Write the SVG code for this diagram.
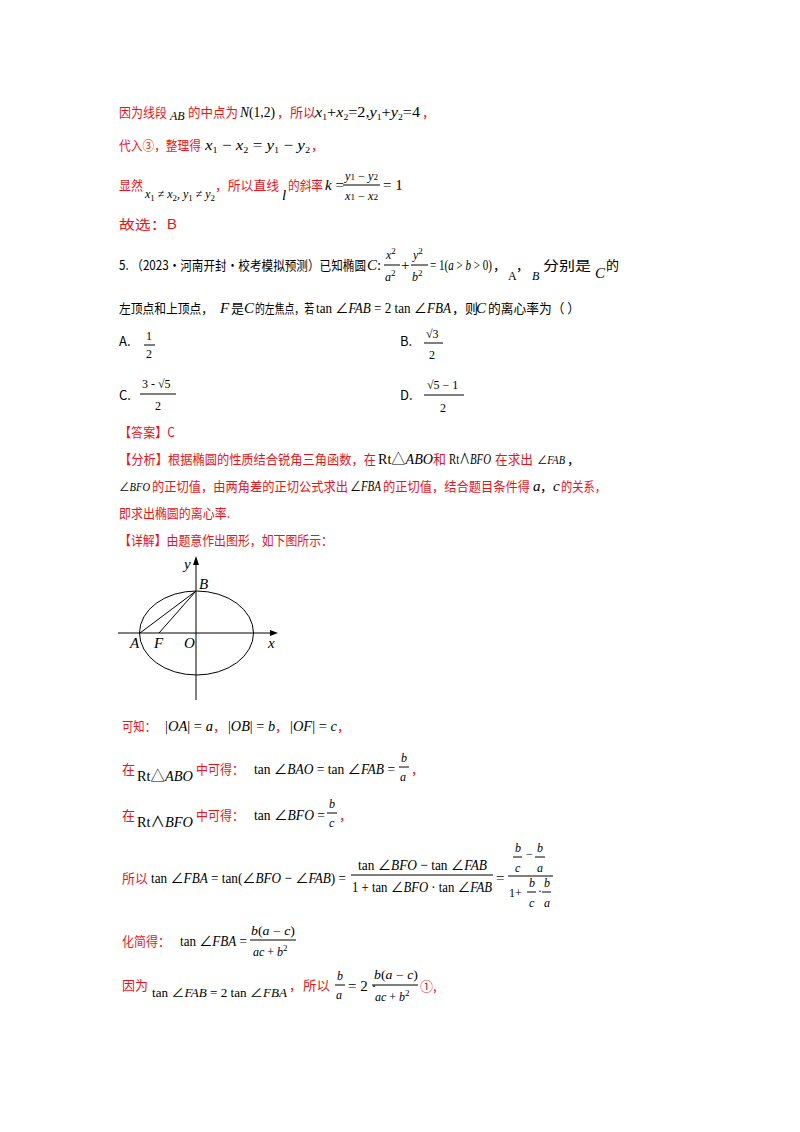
<svg xmlns="http://www.w3.org/2000/svg" width="800" height="1132" viewBox="0 0 800 1132">
<style>
text{font-family:"Liberation Serif","Noto Sans CJK SC",serif;font-size:15px;fill:#000}
.c{font-family:"Noto Sans CJK SC",sans-serif;font-size:13px}
.r{fill:#e8141b}
.i{font-style:italic}
.s{font-size:9px}
.m{font-size:12px}
line,ellipse{stroke:#000;stroke-width:1;fill:none}
</style>
<rect width="800" height="1132" fill="#fff"/>
<g id="text">
<text x="119" y="117" class="c r" textLength="48" lengthAdjust="spacingAndGlyphs">因为线段</text>
<text x="170" y="120" class="i m">AB</text>
<text x="188" y="117" class="c r" textLength="50" lengthAdjust="spacingAndGlyphs">的中点为</text>
<text x="240" y="117" textLength="35" lengthAdjust="spacingAndGlyphs"><tspan class="i">N</tspan>(1,2)</text>
<text x="277" y="117" class="c r">，所以</text>
<text x="315" y="117" textLength="105" lengthAdjust="spacingAndGlyphs"><tspan class="i">x</tspan><tspan class="s" dy="3">1</tspan><tspan dy="-3">+</tspan><tspan class="i">x</tspan><tspan class="s" dy="3">2</tspan><tspan dy="-3">=2,</tspan><tspan class="i">y</tspan><tspan class="s" dy="3">1</tspan><tspan dy="-3">+</tspan><tspan class="i">y</tspan><tspan class="s" dy="3">2</tspan><tspan dy="-3">=4</tspan></text>
<text x="422" y="117" class="c r">，</text>
<text x="119" y="150" class="c r" textLength="82" lengthAdjust="spacingAndGlyphs">代入③，整理得</text>
<text x="205" y="150" textLength="105" lengthAdjust="spacingAndGlyphs"><tspan class="i">x</tspan><tspan class="s" dy="3">1</tspan><tspan dy="-3"> − </tspan><tspan class="i">x</tspan><tspan class="s" dy="3">2</tspan><tspan dy="-3"> = </tspan><tspan class="i">y</tspan><tspan class="s" dy="3">1</tspan><tspan dy="-3"> − </tspan><tspan class="i">y</tspan><tspan class="s" dy="3">2</tspan></text>
<text x="311" y="150" class="c r">，</text>
<text x="119" y="190" class="c r" textLength="24" lengthAdjust="spacingAndGlyphs">显然</text>
<text x="145" y="198" textLength="70" lengthAdjust="spacingAndGlyphs" class="m"><tspan class="i">x</tspan><tspan class="s" dy="3">1</tspan><tspan dy="-3"> ≠ </tspan><tspan class="i">x</tspan><tspan class="s" dy="3">2</tspan><tspan dy="-3">, </tspan><tspan class="i">y</tspan><tspan class="s" dy="3">1</tspan><tspan dy="-3"> ≠ </tspan><tspan class="i">y</tspan><tspan class="s" dy="3">2</tspan></text>
<text x="215" y="190" class="c r" textLength="64" lengthAdjust="spacingAndGlyphs">，所以直线</text>
<text x="282" y="200" class="i">l</text>
<text x="288" y="190" class="c r" textLength="35" lengthAdjust="spacingAndGlyphs">的斜率</text>
<text x="325" y="190"><tspan class="i">k</tspan> =</text>
<text x="345" y="180" class="m" textLength="33" lengthAdjust="spacingAndGlyphs"><tspan class="i">y</tspan><tspan class="s">1</tspan> − <tspan class="i">y</tspan><tspan class="s">2</tspan></text>
<line x1="343" y1="185" x2="380" y2="185"/>
<text x="345" y="200" class="m" textLength="33" lengthAdjust="spacingAndGlyphs"><tspan class="i">x</tspan><tspan class="s">1</tspan> − <tspan class="i">x</tspan><tspan class="s">2</tspan></text>
<text x="383" y="190">= 1</text><text x="398" y="190" class="r">.</text>
<text x="119" y="229" class="c r" textLength="58" lengthAdjust="spacingAndGlyphs">故选：B</text>
<text x="119" y="270" class="c" textLength="247" lengthAdjust="spacingAndGlyphs">5.  （2023·河南开封·校考模拟预测）已知椭圆</text>
<text x="367" y="270"><tspan class="i">C</tspan>:</text>
<text x="386" y="259" class="m"><tspan class="i">x</tspan><tspan class="s" dy="-5">2</tspan></text>
<line x1="384" y1="265" x2="400" y2="265"/>
<text x="385" y="281" class="m"><tspan class="i">a</tspan><tspan class="s" dy="-5">2</tspan></text>
<text x="401" y="270">+</text>
<text x="413" y="259" class="m"><tspan class="i">y</tspan><tspan class="s" dy="-5">2</tspan></text>
<line x1="411" y1="265" x2="428" y2="265"/>
<text x="412" y="281" class="m"><tspan class="i">b</tspan><tspan class="s" dy="-5">2</tspan></text>
<text x="430" y="270" textLength="62" lengthAdjust="spacingAndGlyphs">= 1(<tspan class="i">a</tspan> &gt; <tspan class="i">b</tspan> &gt; 0)</text>
<text x="493" y="270" class="c">，</text>
<text x="508" y="280" class="m">A</text><text x="516" y="270" class="c">，</text><text x="532" y="280" class="i m">B</text>
<text x="543" y="270" class="c" textLength="48" lengthAdjust="spacingAndGlyphs">分别是</text><text x="595" y="278" class="i">C</text><text x="606" y="270" class="c">的</text>
<text x="119" y="313" class="c" textLength="94" lengthAdjust="spacingAndGlyphs">左顶点和上顶点，</text>
<text x="220" y="313" class="i">F</text>
<text x="231" y="313" class="c">是</text>
<text x="244" y="313" class="i">C</text>
<text x="255" y="313" class="c" textLength="59" lengthAdjust="spacingAndGlyphs">的左焦点，若</text>
<text x="316" y="313" textLength="135" lengthAdjust="spacingAndGlyphs">tan ∠<tspan class="i">FAB</tspan> = 2 tan ∠<tspan class="i">FBA</tspan></text>
<text x="452" y="313" class="c">，则</text>
<text x="476" y="313" class="i">C</text>
<text x="488" y="313" class="c" textLength="92" lengthAdjust="spacingAndGlyphs">的离心率为（    ）</text>
<text x="119" y="346" class="c">A.</text>
<text x="146" y="340" class="m">1</text><line x1="144" y1="345" x2="155" y2="345"/><text x="146" y="358" class="m">2</text>
<text x="400" y="346" class="c">B.</text>
<text x="426" y="338" class="m">√3</text><line x1="424" y1="343" x2="443" y2="343"/><text x="429" y="359" class="m">2</text>
<text x="119" y="400" class="c">C.</text>
<text x="142" y="388" class="m">3 - √5</text><line x1="140" y1="394" x2="176" y2="394"/><text x="155" y="410" class="m">2</text>
<text x="400" y="400" class="c">D.</text>
<text x="427" y="389" class="m">√5 − 1</text><line x1="424" y1="395" x2="464" y2="395"/><text x="440" y="412" class="m">2</text>
<text x="119" y="437" class="c r" textLength="56" lengthAdjust="spacingAndGlyphs">【答案】C</text>
<text x="119" y="464" class="c r" textLength="257" lengthAdjust="spacingAndGlyphs">【分析】根据椭圆的性质结合锐角三角函数，在</text>
<text x="378" y="464" textLength="55" lengthAdjust="spacingAndGlyphs">Rt△<tspan class="i">ABO</tspan></text>
<text x="433" y="464" class="c r">和</text>
<text x="449" y="464" textLength="42" lengthAdjust="spacingAndGlyphs">Rt∧<tspan class="i">BFO</tspan></text>
<text x="495" y="464" class="c r" textLength="38" lengthAdjust="spacingAndGlyphs">在求出</text>
<text x="537" y="464" class="m" textLength="28" lengthAdjust="spacingAndGlyphs">∠<tspan class="i">FAB</tspan></text>
<text x="567" y="464" class="c">，</text>
<text x="119" y="491" class="m" textLength="31" lengthAdjust="spacingAndGlyphs">∠<tspan class="i">BFO</tspan></text>
<text x="152" y="491" class="c r" textLength="196" lengthAdjust="spacingAndGlyphs">的正切值，由两角差的正切公式求出</text>
<text x="350" y="491" textLength="31" lengthAdjust="spacingAndGlyphs">∠<tspan class="i">FBA</tspan></text>
<text x="383" y="491" class="c r" textLength="147" lengthAdjust="spacingAndGlyphs">的正切值，结合题目条件得</text>
<text x="533" y="491" class="i">a</text><text x="540" y="491" class="c">，</text><text x="553" y="491" class="i">c</text>
<text x="561" y="491" class="c r" textLength="45" lengthAdjust="spacingAndGlyphs">的关系，</text>
<text x="119" y="518" class="c r" textLength="111" lengthAdjust="spacingAndGlyphs">即求出椭圆的离心率.</text>
<text x="119" y="545" class="c r" textLength="214" lengthAdjust="spacingAndGlyphs">【详解】由题意作出图形，如下图所示：</text>
<text x="122" y="731" class="c r" textLength="34" lengthAdjust="spacingAndGlyphs">可知：</text>
<text x="165" y="731" textLength="48" lengthAdjust="spacingAndGlyphs">|<tspan class="i">OA</tspan>| = <tspan class="i">a</tspan></text><text x="213" y="731" class="c r">，</text>
<text x="228" y="731" textLength="47" lengthAdjust="spacingAndGlyphs">|<tspan class="i">OB</tspan>| = <tspan class="i">b</tspan></text><text x="275" y="731" class="c r">，</text>
<text x="290" y="731" textLength="47" lengthAdjust="spacingAndGlyphs">|<tspan class="i">OF</tspan>| = <tspan class="i">c</tspan></text><text x="337" y="731" class="c r">，</text>
<text x="122" y="774" class="c r">在</text>
<text x="137" y="781" textLength="56" lengthAdjust="spacingAndGlyphs">Rt△<tspan class="i">ABO</tspan></text>
<text x="196" y="774" class="c r" textLength="48" lengthAdjust="spacingAndGlyphs">中可得：</text>
<text x="254" y="774" textLength="141" lengthAdjust="spacingAndGlyphs">tan ∠<tspan class="i">BAO</tspan> = tan ∠<tspan class="i">FAB</tspan> =</text>
<text x="401" y="762" class="i m">b</text><line x1="399" y1="767" x2="409" y2="767"/><text x="400" y="781" class="i m">a</text><text x="411" y="774" class="c r">，</text>
<text x="122" y="820" class="c r">在</text>
<text x="137" y="827" textLength="56" lengthAdjust="spacingAndGlyphs">Rt∧<tspan class="i">BFO</tspan></text>
<text x="196" y="820" class="c r" textLength="48" lengthAdjust="spacingAndGlyphs">中可得：</text>
<text x="254" y="820" textLength="71" lengthAdjust="spacingAndGlyphs">tan ∠<tspan class="i">BFO</tspan> =</text>
<text x="329" y="808" class="i m">b</text><line x1="327" y1="813" x2="337" y2="813"/><text x="329" y="827" class="i m">c</text><text x="339" y="820" class="c r">，</text>
<text x="122" y="883" class="c r" textLength="26" lengthAdjust="spacingAndGlyphs">所以</text>
<text x="151" y="883" textLength="195" lengthAdjust="spacingAndGlyphs">tan ∠<tspan class="i">FBA</tspan> = tan(∠<tspan class="i">BFO</tspan> − ∠<tspan class="i">FAB</tspan>) =</text>
<text x="358" y="870" textLength="129" lengthAdjust="spacingAndGlyphs">tan ∠<tspan class="i">BFO</tspan> − tan ∠<tspan class="i">FAB</tspan></text>
<line x1="351" y1="875" x2="493" y2="875"/>
<text x="352" y="892" textLength="140" lengthAdjust="spacingAndGlyphs">1 + tan ∠<tspan class="i">BFO</tspan> · tan ∠<tspan class="i">FAB</tspan></text>
<text x="496" y="883">=</text>
<text x="515" y="852" class="i m">b</text><text x="526" y="858" class="m">−</text><text x="537" y="852" class="i m">b</text>
<line x1="513" y1="857" x2="522" y2="857"/><line x1="535" y1="857" x2="545" y2="857"/>
<text x="515" y="872" class="i m">c</text><text x="537" y="872" class="i m">a</text>
<line x1="508" y1="876" x2="553" y2="876"/>
<text x="509" y="897" class="m">1+</text><text x="529" y="887" class="i m">b</text><text x="538" y="895" class="m">·</text><text x="544" y="887" class="i m">b</text>
<line x1="527" y1="892" x2="536" y2="892"/><line x1="542" y1="892" x2="551" y2="892"/>
<text x="529" y="907" class="i m">c</text><text x="544" y="907" class="i m">a</text>
<text x="122" y="946" class="c r" textLength="48" lengthAdjust="spacingAndGlyphs">化简得：</text>
<text x="180" y="946" textLength="67" lengthAdjust="spacingAndGlyphs">tan ∠<tspan class="i">FBA</tspan> =</text>
<text x="251" y="935" class="m" textLength="44" lengthAdjust="spacingAndGlyphs"><tspan class="i">b</tspan>(<tspan class="i">a</tspan> − <tspan class="i">c</tspan>)</text><line x1="250" y1="940" x2="296" y2="940"/><text x="253" y="956" class="m"><tspan class="i">ac</tspan> + <tspan class="i">b</tspan><tspan class="s" dy="-5">2</tspan></text>
<text x="122" y="990" class="c r" textLength="26" lengthAdjust="spacingAndGlyphs">因为</text>
<text x="152" y="997" class="m" textLength="135" lengthAdjust="spacingAndGlyphs">tan ∠<tspan class="i">FAB</tspan> = 2 tan ∠<tspan class="i">FBA</tspan></text>
<text x="289" y="990" class="c r">，</text>
<text x="303" y="990" class="c r" textLength="27" lengthAdjust="spacingAndGlyphs">所以</text>
<text x="337" y="980" class="i m">b</text><line x1="335" y1="985" x2="345" y2="985"/><text x="336" y="999" class="i m">a</text>
<text x="348" y="991">= 2 ·</text>
<text x="374" y="979" class="m" textLength="44" lengthAdjust="spacingAndGlyphs"><tspan class="i">b</tspan>(<tspan class="i">a</tspan> − <tspan class="i">c</tspan>)</text><line x1="372" y1="985" x2="418" y2="985"/><text x="375" y="1001" class="m"><tspan class="i">ac</tspan> + <tspan class="i">b</tspan><tspan class="s" dy="-5">2</tspan></text>
<text x="420" y="991" class="c r">①,</text>
</g>
<g id="figure">
<ellipse cx="196.5" cy="633" rx="57" ry="42"/>
<line x1="118" y1="633" x2="272" y2="633"/>
<polygon points="278,633 270,630 270,636" fill="#000"/>
<line x1="196" y1="700" x2="196" y2="562"/>
<polygon points="196,556 193,565 199,565" fill="#000"/>
<line x1="140" y1="633" x2="196" y2="591"/>
<line x1="159" y1="633" x2="196" y2="591"/>
<text x="184" y="569" class="i">y</text>
<text x="199" y="589" class="i">B</text>
<text x="130" y="648" class="i">A</text>
<text x="154" y="648" class="i">F</text>
<text x="184" y="648" class="i">O</text>
<text x="268" y="648" class="i">x</text>
</g>
</svg>
